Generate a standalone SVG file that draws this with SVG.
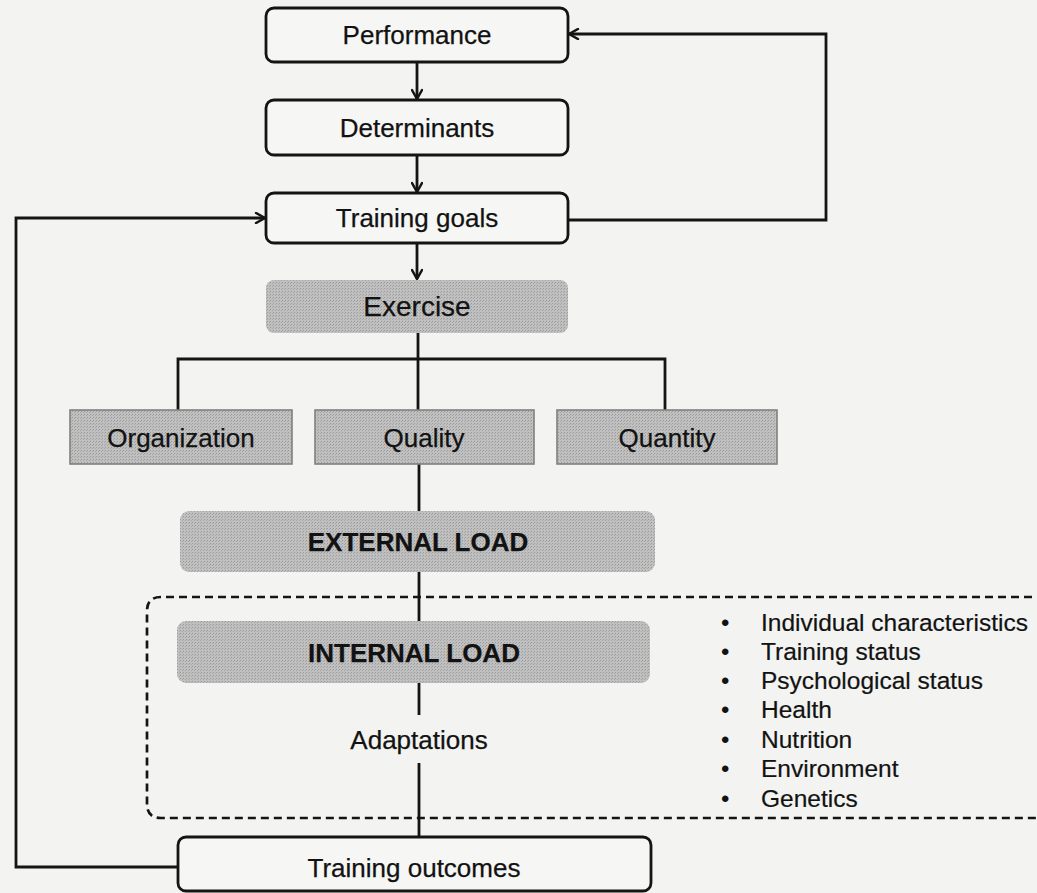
<svg xmlns="http://www.w3.org/2000/svg" width="1037" height="893" viewBox="0 0 1037 893">
  <defs>
    <!-- halftone-like grey fill for the shaded boxes -->
    <pattern id="halftone" width="3" height="3" patternUnits="userSpaceOnUse">
      <rect width="3" height="3" fill="#c0c0c0"/>
      <rect x="0" y="0" width="1" height="1" fill="#999999"/>
      <rect x="2" y="1" width="1" height="1" fill="#a6a6a6"/>
    </pattern>
    <marker id="arrow" viewBox="0 0 12 12" refX="11" refY="6" markerWidth="12" markerHeight="12" markerUnits="userSpaceOnUse" orient="auto">
      <path d="M2,1 L11,6 L2,11" fill="none" stroke="#141414" stroke-width="2.5" stroke-linecap="round" stroke-linejoin="round"/>
    </marker>
    <style>
      .bg { fill: #f3f3f1; }
      .white { fill: #f6f6f4; stroke: #141414; stroke-width: 2.8; }
      .shade { fill: url(#halftone); }
      .shade-b { fill: url(#halftone); stroke: #808080; stroke-width: 1.6; }
      .lbl { font-family: "Liberation Sans", Arial, sans-serif; font-size: 26px; fill: #121212; text-anchor: middle; stroke: #121212; stroke-width: 0.25; }
      .big { font-size: 28px; }
      .bold { font-weight: bold; }
      .item { font-family: "Liberation Sans", Arial, sans-serif; font-size: 24.5px; fill: #121212; stroke: #121212; stroke-width: 0.2; }
      .bullet { font-family: "Liberation Sans", Arial, sans-serif; font-size: 24px; fill: #121212; }
      .ln { fill: none; stroke: #141414; stroke-width: 2.8; }
      .dash { fill: none; stroke: #141414; stroke-width: 2.7; stroke-dasharray: 8 5; }
    </style>
  </defs>

  <rect class="bg" x="0" y="0" width="1037" height="893"/>

  <!-- connectors -->
  <g id="connectors">
    <line class="ln" x1="417" y1="62" x2="417" y2="99" marker-end="url(#arrow)"/>
    <line class="ln" x1="417" y1="155" x2="417" y2="192" marker-end="url(#arrow)"/>
    <line class="ln" x1="417" y1="243" x2="417" y2="279" marker-end="url(#arrow)"/>
    <!-- feedback from goals back to performance -->
    <polyline class="ln" points="568,220 826,220 826,34 569,34" marker-end="url(#arrow)"/>
    <!-- feedback from outcomes back to goals -->
    <polyline class="ln" points="178,867 16,867 16,218 265,218" marker-end="url(#arrow)"/>
    <!-- exercise branches -->
    <line class="ln" x1="418" y1="333" x2="418" y2="410"/>
    <polyline class="ln" points="178,410 178,359 665,359 665,410"/>
    <!-- central spine -->
    <line class="ln" x1="419" y1="464" x2="419" y2="511"/>
    <line class="ln" x1="419" y1="572" x2="419" y2="621"/>
    <line class="ln" x1="419" y1="683" x2="419" y2="715"/>
    <line class="ln" x1="419" y1="763" x2="419" y2="837"/>
    <!-- dashed frame around internal load and modifiers -->
    <path class="dash" d="M1045,597 H161 Q147,597 147,611 V804 Q147,818 161,818 H1045"/>
  </g>

  <g id="performance">
    <rect class="white" x="266" y="8" width="302" height="54" rx="8"/>
    <text class="lbl" x="417" y="44">Performance</text>
  </g>
  <g id="determinants">
    <rect class="white" x="266" y="100" width="302" height="55" rx="8"/>
    <text class="lbl" x="417" y="137">Determinants</text>
  </g>
  <g id="training-goals">
    <rect class="white" x="266" y="193" width="302" height="50" rx="8"/>
    <text class="lbl" x="417" y="227">Training goals</text>
  </g>
  <g id="exercise">
    <rect class="shade" x="266" y="280" width="302" height="53" rx="8"/>
    <text class="lbl big" x="417" y="316">Exercise</text>
  </g>
  <g id="organization">
    <rect class="shade-b" x="70" y="410" width="222" height="54"/>
    <text class="lbl" x="181" y="447">Organization</text>
  </g>
  <g id="quality">
    <rect class="shade-b" x="315" y="410" width="219" height="54"/>
    <text class="lbl" x="424" y="447">Quality</text>
  </g>
  <g id="quantity">
    <rect class="shade-b" x="557" y="410" width="220" height="54"/>
    <text class="lbl" x="667" y="447">Quantity</text>
  </g>
  <g id="external-load">
    <rect class="shade" x="180" y="511" width="475" height="61" rx="9"/>
    <text class="lbl bold" x="418" y="551">EXTERNAL LOAD</text>
  </g>
  <g id="internal-load">
    <rect class="shade" x="177" y="621" width="473" height="62" rx="9"/>
    <text class="lbl bold" x="414" y="662">INTERNAL LOAD</text>
  </g>
  <g id="adaptations">
    <text class="lbl" x="419" y="749">Adaptations</text>
  </g>
  <g id="modifiers">
    <text class="bullet" x="721" y="631">•</text>
    <text class="item" x="761" y="631">Individual characteristics</text>
    <text class="bullet" x="721" y="660">•</text>
    <text class="item" x="761" y="660">Training status</text>
    <text class="bullet" x="721" y="689">•</text>
    <text class="item" x="761" y="689">Psychological status</text>
    <text class="bullet" x="721" y="718">•</text>
    <text class="item" x="761" y="718">Health</text>
    <text class="bullet" x="721" y="748">•</text>
    <text class="item" x="761" y="748">Nutrition</text>
    <text class="bullet" x="721" y="777">•</text>
    <text class="item" x="761" y="777">Environment</text>
    <text class="bullet" x="721" y="807">•</text>
    <text class="item" x="761" y="807">Genetics</text>
  </g>
  <g id="training-outcomes">
    <rect class="white" x="178" y="837" width="473" height="54" rx="8"/>
    <text class="lbl" x="414" y="877">Training outcomes</text>
  </g>
</svg>
